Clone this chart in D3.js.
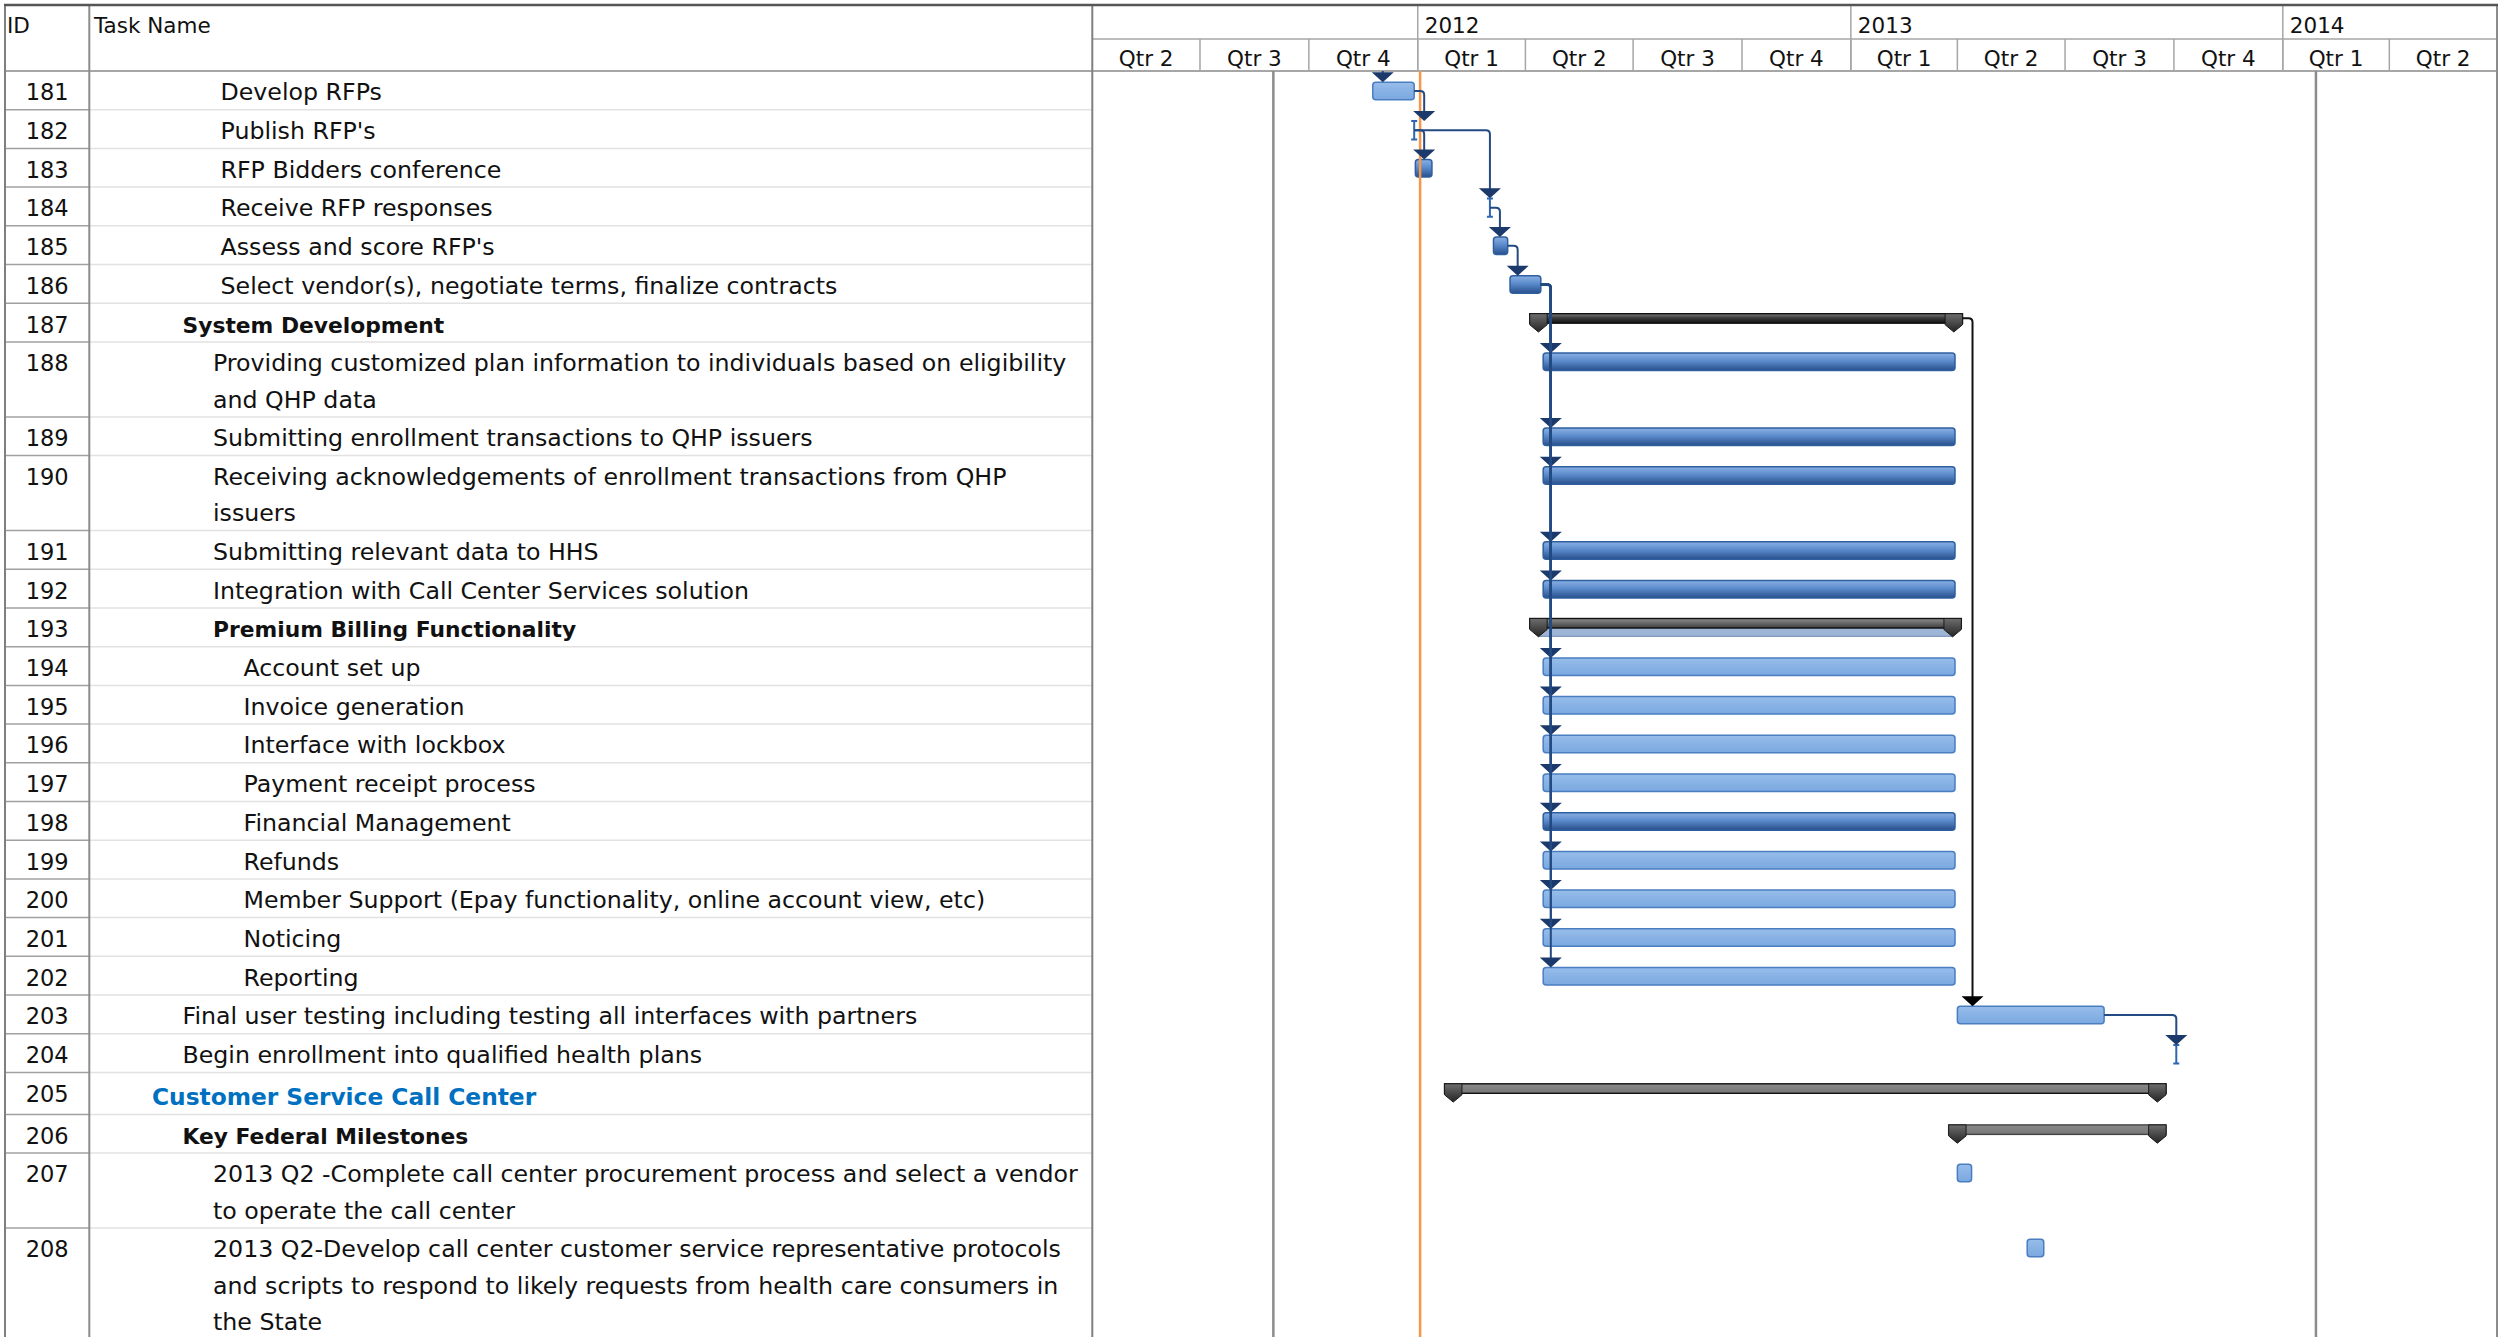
<!DOCTYPE html>
<html><head><meta charset="utf-8">
<script src="https://cdn.jsdelivr.net/npm/d3@7"></script>
<style>
body{margin:0;background:#fff}
svg{display:block}
text{font-family:"DejaVu Sans",sans-serif;white-space:pre}
</style>
</head><body>
<svg id="c" width="2507" height="1337"></svg>
<script>
// ---------------- DATA ----------------
const taskIds = [181,182,183,184,185,186,187,188,189,190,191,192,193,194,195,196,197,198,199,200,201,202,203,204,205,206,207,208];
const taskNames = [
  " Develop RFPs",
  " Publish RFP's",
  " RFP Bidders conference",
  " Receive RFP responses",
  " Assess and score RFP's",
  " Select vendor(s), negotiate terms, finalize contracts",
  "System Development",
  "Providing customized plan information to individuals based on eligibility\nand QHP data",
  "Submitting enrollment transactions to QHP issuers",
  "Receiving acknowledgements of enrollment transactions from QHP\nissuers",
  "Submitting relevant data to HHS",
  "Integration with Call Center Services solution",
  "Premium Billing Functionality",
  "Account set up",
  "Invoice generation",
  "Interface with lockbox",
  "Payment receipt process",
  "Financial Management",
  "Refunds",
  "Member Support (Epay functionality, online account view, etc)",
  "Noticing",
  "Reporting",
  "Final user testing including testing all interfaces with partners",
  "Begin enrollment into qualified health plans",
  "Customer Service Call Center",
  "Key Federal Milestones",
  "2013 Q2 -Complete call center procurement process and select a vendor\nto operate the call center",
  "2013 Q2-Develop call center customer service representative protocols\nand scripts to respond to likely requests from health care consumers in\nthe State"
];
const outlineLevels = [3,3,3,3,3,3,2,3,3,3,3,3,3,4,4,4,4,4,4,4,4,4,2,2,1,2,3,3];
// task = normal task, crit = critical task, zero = zero-duration task,
// sumCrit / sumRoll / sum = summary tasks
const taskKinds = ["task","zero","crit","zero","crit","crit","sumCrit","crit","crit","crit","crit","crit","sumRoll",
  "task","task","task","task","crit","task","task","task","task","task","zero","sum","sum","task","task"];
const startDates = ["2011-11-24","2011-12-29","2011-12-30","2012-03-02","2012-03-05","2012-03-19","2012-04-12",
  "2012-04-16","2012-04-16","2012-04-16","2012-04-16","2012-04-16","2012-04-12",
  "2012-04-16","2012-04-16","2012-04-16","2012-04-16","2012-04-16","2012-04-16","2012-04-16","2012-04-16","2012-04-16",
  "2013-04-01","2013-10-03","2012-01-31","2013-04-01","2013-04-01","2013-05-30"];
const finishDates = ["2011-12-29","2011-12-29","2012-01-13","2012-03-02","2012-03-17","2012-04-14","2013-03-29",
  "2013-03-30","2013-03-30","2013-03-30","2013-03-30","2013-03-30","2013-03-28",
  "2013-03-30","2013-03-30","2013-03-30","2013-03-30","2013-03-30","2013-03-30","2013-03-30","2013-03-30","2013-03-30",
  "2013-08-03","2013-10-03","2013-09-17","2013-09-17","2013-04-13","2013-06-13"];
// predecessor -> successor (finish-to-start)
const links = [[180,181],[181,182],[182,183],[182,184],[184,185],[185,186],
  [186,188],[186,189],[186,190],[186,191],[186,192],[186,194],[186,195],[186,196],[186,197],
  [186,198],[186,199],[186,200],[186,201],[186,202],[187,203],[203,204]];
// predecessor rows that lie above the visible part of the view: [id, finish]
const hiddenPredecessors = [[180,"2011-11-24"]];
const timelineStart = "2011-04-01";
const timelineEnd = "2014-07-01";
const quarterNames = ["Qtr 1","Qtr 2","Qtr 3","Qtr 4"];
const statusDate = "2012-01-03";
const markerDates = ["2011-09-01","2014-01-29"];
const headerLabels = ["ID","Task Name"];

// ---------------- LAYOUT ----------------
const W = 2507, H = 1337;
const L = {left:5, idRight:89.3, tableRight:1092.3, right:2497, top:5, yearLine:39, headBottom:71};
const LINE1 = 38.7, LINEN = 36.3;
const FS = {text:23.7, bold:21.8, top:23.3, id:22.5, head:21.5};
const parse = d3.timeParse("%Y-%m-%d");
const x = d3.scaleTime().domain([parse(timelineStart), parse(timelineEnd)]).range([L.tableRight, L.right]);

const svg = d3.select("#c");
const defs = svg.append("defs");
function grad(id, stops){
  const g = defs.append("linearGradient").attr("id",id).attr("x1",0).attr("y1",0).attr("x2",0).attr("y2",1);
  stops.forEach(([o,c]) => g.append("stop").attr("offset",o).attr("stop-color",c));
}
grad("gTask",[[0,"#97bdea"],[1,"#7aa8e0"]]);
grad("gCrit",[[0,"#8ab0e3"],[0.45,"#5b8bcc"],[1,"#284f8b"]]);
grad("gSumCrit",[[0,"#7d7d7d"],[0.45,"#3a3a3a"],[1,"#111"]]);
grad("gSumRoll",[[0,"#8e8e8e"],[1,"#3e3e3e"]]);
grad("gSum",[[0,"#8a8a8a"],[1,"#767676"]]);
grad("gCap",[[0,"#6e6e6e"],[1,"#242424"]]);
defs.append("clipPath").attr("id","chartClip").append("rect")
  .attr("x",L.tableRight).attr("y",L.headBottom).attr("width",L.right-L.tableRight).attr("height",H-L.headBottom);

svg.append("rect").attr("width",W).attr("height",H).attr("fill","#fff");

// rows
let yy = L.headBottom;
const rows = taskIds.map((id,i) => {
  const lines = taskNames[i].split("\n");
  const level = outlineLevels[i];
  const h = LINE1 + (lines.length-1)*LINEN + (level===1 ? 3.3 : 0);
  const r = {id, i, top:yy, h, lines, level, kind:taskKinds[i],
    start:parse(startDates[i]), finish:parse(finishDates[i])};
  yy += h;
  return r;
});
const byId = new Map(rows.map(r => [r.id, r]));
hiddenPredecessors.forEach(([id,f]) => byId.set(id, {id, hidden:true, kind:"task",
  top:L.headBottom-LINE1, start:parse(f), finish:parse(f)}));

// ---------------- TABLE ----------------
const table = svg.append("g");
rows.forEach(r => {
  const yb = r.top + r.h;
  table.append("line").attr("x1",L.idRight).attr("x2",L.tableRight).attr("y1",yb).attr("y2",yb)
    .attr("stroke","#e2e2e2").attr("stroke-width",1.5);
  table.append("line").attr("x1",L.left).attr("x2",L.idRight).attr("y1",yb).attr("y2",yb)
    .attr("stroke","#a0a0a0").attr("stroke-width",1.5);
});
const isSummary = k => k.startsWith("sum");
rows.forEach(r => {
  const base = r.top + (r.level===1 ? 32.6 : 29.3);
  table.append("text").attr("x",(L.left+L.idRight)/2).attr("y",r.top+29.3)
    .attr("text-anchor","middle").attr("font-size",FS.id).attr("fill","#111").text(r.id);
  const sum = isSummary(r.kind);
  const tx = 152 + (r.level-1)*30.5;
  const t = table.append("text")
    .attr("x", tx).attr("y", base)
    .attr("font-size", r.level===1 ? FS.top : sum ? FS.bold : FS.text)
    .attr("font-weight", sum ? "bold" : "normal")
    .attr("fill", r.level===1 ? "#0070c0" : "#111");
  r.lines.forEach((ln,j) => t.append("tspan").attr("x",tx).attr("y", base + j*LINEN).text(ln));
});

// ---------------- HEADER ----------------
const head = svg.append("g");
head.append("text").attr("x",7).attr("y",33).attr("font-size",FS.head).attr("fill","#111").text(headerLabels[0]);
head.append("text").attr("x",94).attr("y",33).attr("font-size",FS.head).attr("fill","#111").text(headerLabels[1]);
head.append("line").attr("x1",L.tableRight).attr("x2",L.right).attr("y1",L.yearLine).attr("y2",L.yearLine)
  .attr("stroke","#a6a6a6").attr("stroke-width",1.5);
const [d0,d1] = x.domain();
const quarters = d3.timeMonth.every(3).range(d0, d1);
quarters.forEach(q => {
  const qe = d3.timeMonth.offset(q,3);
  head.append("line").attr("x1",x(qe)).attr("x2",x(qe)).attr("y1",L.yearLine).attr("y2",L.headBottom)
    .attr("stroke","#a6a6a6").attr("stroke-width",1.5);
  head.append("text").attr("x",(x(q)+x(qe))/2).attr("y",66).attr("text-anchor","middle")
    .attr("font-size",FS.head).attr("fill","#111").text(quarterNames[Math.floor(q.getMonth()/3)]);
});
const years = d3.timeYear.range(d0, d1);
const fmtYear = d3.timeFormat("%Y");
years.forEach(yd => {
  head.append("line").attr("x1",x(yd)).attr("x2",x(yd)).attr("y1",L.top).attr("y2",L.headBottom)
    .attr("stroke","#a6a6a6").attr("stroke-width",1.5);
  head.append("text").attr("x",x(yd)+7).attr("y",33).attr("font-size",FS.head).attr("fill","#111").text(fmtYear(yd));
});

// frame lines
const frame = svg.append("g");
frame.append("line").attr("x1",L.left).attr("x2",L.right).attr("y1",L.headBottom).attr("y2",L.headBottom)
  .attr("stroke","#a6a6a6").attr("stroke-width",2);
[[L.left,"#7f7f7f"],[L.idRight,"#8c8c8c"],[L.tableRight,"#7f7f7f"],[L.right,"#8c8c8c"]].forEach(([xx,c]) =>
  frame.append("line").attr("x1",xx).attr("x2",xx).attr("y1",L.top).attr("y2",H).attr("stroke",c).attr("stroke-width",2));
frame.append("line").attr("x1",L.left-1).attr("x2",L.right+1).attr("y1",L.top).attr("y2",L.top)
  .attr("stroke","#555").attr("stroke-width",2.5);

// ---------------- CHART ----------------
const chart = svg.append("g").attr("clip-path","url(#chartClip)");
markerDates.forEach(d => chart.append("line").attr("x1",x(parse(d))).attr("x2",x(parse(d)))
  .attr("y1",L.headBottom).attr("y2",H).attr("stroke","#8c8c8c").attr("stroke-width",2.5));

const CAP = 8.7;
function capPath(cx, y0){
  return `M${cx-CAP},${y0}H${cx+CAP}V${y0+11}L${cx},${y0+18.3}L${cx-CAP},${y0+11}Z`;
}
rows.forEach(r => {
  const xs = x(r.start), xe = x(r.finish);
  if (r.kind === "task" || r.kind === "crit") {
    chart.append("rect").attr("x",xs).attr("y",r.top+11.2).attr("width",Math.max(2,xe-xs)).attr("height",17.5)
      .attr("rx",3).attr("fill", r.kind==="crit" ? "url(#gCrit)" : "url(#gTask)")
      .attr("stroke", r.kind==="crit" ? "#2f5f9f" : "#4a7ec0").attr("stroke-width",1.5);
  } else if (r.kind === "zero") {
    const y0 = r.top+11.4, y1 = r.top+29.7;
    chart.append("path").attr("d",`M${xs},${y0}V${y1}M${xs-3},${y0}H${xs+3}M${xs-3},${y1}H${xs+3}`)
      .attr("stroke","#2f66b3").attr("stroke-width",2).attr("fill","none");
  } else {
    const off = r.level===1 ? 0.9 : 0;
    const y0 = r.top + 10.5 + off;
    if (r.kind === "sumRoll") {
      chart.append("rect").attr("x",xs).attr("y",r.top+19.8).attr("width",xe-xs).attr("height",8.5)
        .attr("fill","#9fb5d6").attr("stroke","#7088b0").attr("stroke-width",1);
    }
    const fill = r.kind==="sumCrit" ? "url(#gSumCrit)" : r.kind==="sumRoll" ? "url(#gSumRoll)" : "url(#gSum)";
    chart.append("rect").attr("x",xs-CAP).attr("y",y0).attr("width",xe-xs+2*CAP).attr("height",9.5)
      .attr("fill",fill).attr("stroke", r.kind==="sum" && r.level>1 ? "#444" : "#111").attr("stroke-width",1.4);
    [xs,xe].forEach(cx => chart.append("path").attr("d",capPath(cx,y0)).attr("fill","url(#gCap)")
      .attr("stroke","#1a1a1a").attr("stroke-width",1));
  }
});

// status date
chart.append("line").attr("x1",x(parse(statusDate))).attr("x2",x(parse(statusDate)))
  .attr("y1",L.headBottom).attr("y2",H).attr("stroke","#f79646").attr("stroke-width",2.5);

// links
links.forEach(([p,s]) => {
  const pr = byId.get(p), sr = byId.get(s);
  let sx, sy;
  if (pr.kind === "zero") { sx = x(pr.start); sy = pr.top + 20.6; }
  else if (isSummary(pr.kind)) { sx = x(pr.finish) + CAP; sy = pr.top + 15; }
  else { sx = x(pr.finish); sy = pr.top + 20; }
  const dx = Math.max(sx + 10, x(sr.start));
  const tipY = sr.top + 11.2, aTop = tipY - 10;
  const black = isSummary(pr.kind);
  chart.append("path").attr("d",`M${sx},${sy}H${dx-4}Q${dx},${sy} ${dx},${sy+4}V${aTop+2}`)
    .attr("fill","none").attr("stroke", black ? "#111" : "#234a82").attr("stroke-width",2);
  chart.append("path").attr("d",`M${dx-11},${aTop}H${dx+11}L${dx},${tipY}Z`)
    .attr("fill", black ? "#000" : "#1b3a6b");
});
</script>
</body></html>
